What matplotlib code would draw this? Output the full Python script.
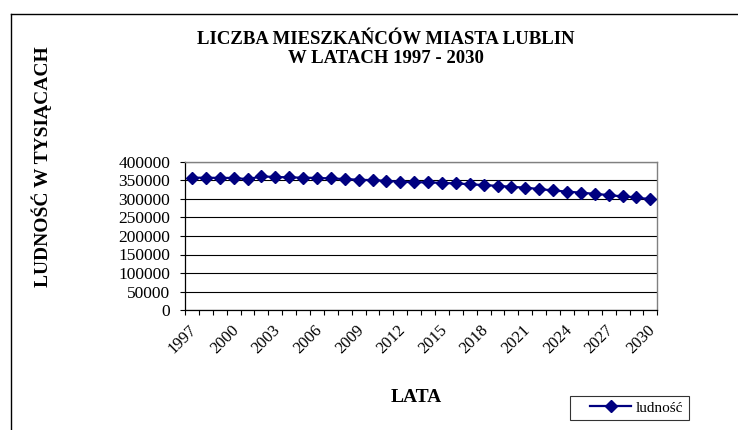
import matplotlib
matplotlib.use("Agg")
import matplotlib.pyplot as plt
from matplotlib.lines import Line2D
from matplotlib.legend_handler import HandlerLine2D
from matplotlib.transforms import ScaledTranslation
import numpy as np

plt.rcParams['font.family'] = ['Liberation Serif', 'DejaVu Serif']

years = list(range(1997, 2031))
population = [357500, 357500, 357000, 357000, 353500, 361000, 359500, 358500,
              357500, 357000, 355500, 354000, 352000, 351000, 349000, 346500,
              345500, 345000, 343500, 342000, 340000, 337500, 335500, 333000,
              330500, 327000, 323000, 320000, 317000, 314000, 310500, 307000,
              304500, 299000]
y_ticks = [0, 50000, 100000, 150000, 200000, 250000, 300000, 350000, 400000]
title = "LICZBA MIESZKAŃCÓW MIASTA LUBLIN\nW LATACH 1997 - 2030"
ylabel = "LUDNOŚĆ W TYSIĄCACH"
xlabel = "LATA"
series_name = "ludność"

W, H = 738, 430
fig = plt.figure(figsize=(W / 100, H / 100), dpi=100)
fig.patch.set_facecolor('white')

L, R, T, B = 185, 657.3, 162, 310
ax = fig.add_axes([L / W, 1 - B / H, (R - L) / W, (B - T) / H])

x = np.arange(len(years))
line, = ax.plot(x, population, color='#000080', lw=1.6, marker='D', ms=5.8,
                markerfacecolor='#000080', markeredgecolor='#000080',
                label=series_name, zorder=3)

ax.set_xlim(-0.5, len(years) - 0.5)
ax.set_ylim(0, 400000)
ax.set_yticks(y_ticks)
ax.set_yticklabels([str(v) for v in y_ticks], fontsize=12.5)
ax.yaxis.grid(True, color='black', lw=0.8)
ax.set_axisbelow(True)

# category boundaries as major ticks, labels at every 3rd category center
ax.set_xticks(np.arange(-0.5, len(years), 1.0))
ax.set_xticklabels([])
ax.set_xticks(x[::3], minor=True)
ax.set_xticklabels([str(y) for y in years[::3]], minor=True, fontsize=12,
                   rotation=45, ha='right', va='top', rotation_mode='anchor')
ax.tick_params(axis='x', which='major', direction='out', length=3.6, width=0.8, color='black')
ax.tick_params(axis='x', which='minor', length=0, pad=8.5)
ax.tick_params(axis='y', direction='out', length=3.6, width=0.8, pad=7)
shift = ScaledTranslation(-3 / 100, 0, fig.dpi_scale_trans)
for lbl in ax.get_xticklabels(minor=True):
    lbl.set_transform(lbl.get_transform() + shift)

for s in ['left', 'bottom']:
    ax.spines[s].set_color('black')
    ax.spines[s].set_linewidth(0.9)
for s in ['top', 'right']:
    ax.spines[s].set_color('#808080')
    ax.spines[s].set_linewidth(1.0)

# figure texts
fig.text(386 / W, 1 - 49 / H, title, ha='center', va='center', fontsize=13.5,
         fontweight='bold', linespacing=1.2)
fig.text(42 / W, 1 - 167 / H, ylabel, ha='center', va='center', rotation=90,
         fontsize=14, fontweight='bold')
fig.text(416 / W, 1 - 397 / H, xlabel, ha='center', va='center', fontsize=14,
         fontweight='bold')

leg = fig.legend(handles=[line], loc='center left',
                 bbox_to_anchor=(570 / W, 1 - 407.7 / H),
                 fontsize=11, frameon=True, fancybox=False, edgecolor='black',
                 handlelength=3.65, handletextpad=0.3, borderpad=0.35,
                 borderaxespad=0,
                 handler_map={line: HandlerLine2D(xpad=0.96)})
leg.get_frame().set_linewidth(0.8)

# outer chart border (top and left visible)
fig.add_artist(Line2D([10.7 / W, 10.7 / W], [0, 1 - 14 / H], transform=fig.transFigure,
                      color='black', lw=1.0))
fig.add_artist(Line2D([10.7 / W, 1], [1 - 14 / H, 1 - 14 / H], transform=fig.transFigure,
                      color='black', lw=1.0))

fig.savefig('out.png', dpi=100)
